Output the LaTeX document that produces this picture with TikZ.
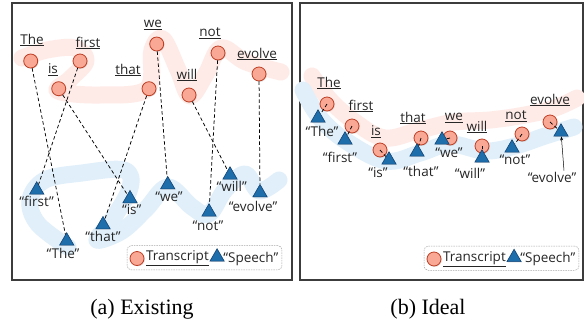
\documentclass[tikz,border=0pt]{standalone}
\usepackage{fontspec}
\setmainfont{Liberation Serif}
\newfontfamily\labelfont{Open Sans}
\usepackage{tikz}
\usetikzlibrary{positioning,calc,shapes.geometric,fit,arrows.meta,shadows}
\definecolor{trfill}{RGB}{248,168,148}
\definecolor{trdraw}{RGB}{190,62,36}
\definecolor{spfill}{RGB}{30,110,172}
\definecolor{spdraw}{RGB}{18,68,118}
\definecolor{trband}{RGB}{254,235,231}
\definecolor{spband}{RGB}{224,239,250}
\definecolor{panelgray}{RGB}{60,60,60}

\begin{document}
\begin{tikzpicture}[x=1pt,y=-1pt,
		panel/.style={draw=panelgray, line width=1.1pt, fill=white},
		tcirc/.style={circle, draw=trdraw, fill=trfill, line width=0.8pt, minimum size=14pt, inner sep=0pt,
			drop shadow={opacity=0.25, shadow xshift=0.8pt, shadow yshift=-0.8pt}},
		stri/.style={regular polygon, regular polygon sides=3, draw=spdraw, fill=spfill, line width=0.6pt,
			minimum size=16.5pt, inner sep=0pt, drop shadow={opacity=0.25, shadow xshift=0.8pt, shadow yshift=-0.8pt}},
		lbl/.style={font=\labelfont\fontsize{13.5}{14}\selectfont, text=black!85, inner sep=1pt},
		conn/.style={dash pattern=on 3.5pt off 2.5pt, line width=0.75pt},
		band/.style={line width=17pt, line cap=round, line join=round},
		legbox/.style={draw=gray!70, dash pattern=on 1.5pt off 1pt, rounded corners=4pt, line width=0.5pt, inner sep=2.5pt},
		capt/.style={font=\fontsize{22}{24}\selectfont, inner sep=0pt}
		]
		\useasboundingbox (0,0) rectangle (584,322);
		
		% ===== two panels =====
		\draw[panel] (12,3) rectangle (292,280);
		\draw[panel] (300,3) rectangle (583,280);
		
		% ===== background bands (a) =====
		\draw[band, draw=trband] plot[smooth, tension=0.6] coordinates {(22,58) (47,50) (75,48) (86,61) (70,79) (58,91) (100,95) (147,89) (152,50) (163,39) (178,70) (190,96) (206,74) (221,48) (246,62) (281,72)};
		\draw[band, draw=spband] plot[smooth, tension=0.6] coordinates {(68,247) (38,224) (30,200) (45,180) (82,173) (124,170) (130,188) (112,220) (97,240) (122,231) (146,209) (168,187) (192,207) (209,214) (225,190) (245,174) (259,191) (279,180)};
		
		% ===== background bands (b) =====
		\draw[band, draw=trband] plot[smooth, tension=0.6] coordinates {(312,76) (330,100) (355,122) (385,138) (420,130) (455,122) (490,120) (525,115) (555,108) (577,98)};
		\draw[band, draw=spband] plot[smooth, tension=0.6] coordinates {(303,90) (320,118) (346,141) (386,161) (420,153) (450,144) (485,151) (515,146) (545,136) (574,127)};
		
		% ===== (a) transcript words =====
		\foreach \w/\cx/\cy/\lx/\ly in {The/30.7/61/32/40, first/80/61/88/43, is/58.7/88.7/53/70, that/149/88.7/128/70,
			we/156.7/44/153/25, will/189/95/187/75, not/218/53/210/33, evolve/259/74/257/54}{
			\node[tcirc] (ac\w) at (\cx,\cy) {};
			\node[lbl] (acl\w) at (\lx,\ly) {\underline{\w}};
		}
		
		% ===== (a) speech words =====
		\foreach \w/\sx/\sy/\lx/\ly in {The/66.7/241/63/253, first/36.7/190/36.7/201.7, is/130/198.7/131.7/210, that/103/224.7/103/236.7,
			we/167.7/184.7/169/197, will/230/175/231.7/186.7, not/209/212/208/226, evolve/260/192.7/253/206.7}{
			\node[stri] (as\w) at (\sx,\sy) {};
			\node[lbl] (asl\w) at (\lx,\ly) {“\w”};
		}
		
		\foreach \w in {The,first,is,that,we,will,not,evolve}{
			\draw[conn] (ac\w) -- (as\w);
		}
		
		% ===== (b) transcript words =====
		\foreach \w/\cx/\cy/\lx/\ly in {The/327/104/329/83, first/352/126/361/106, is/380/150/376/132, that/421/138/413/118,
			we/450/138/454/118, will/482/146/477/127, not/522/134/516/116, evolve/550/122/550/100}{
			\node[tcirc] (bc\w) at (\cx,\cy) {};
			\node[lbl] (bcl\w) at (\lx,\ly) {\underline{\w}};
		}
		
		% ===== (b) speech words =====
		\foreach \w/\sx/\sy/\lx/\ly in {The/318/118/322/131, first/345/140/340/157, is/389/160/378/173, that/417/152/421/171,
			we/442/140/449/153, will/482/158/470/173, not/512/148/515/160, evolve/561/132/552/177}{
			\node[stri] (bs\w) at (\sx,\sy) {};
			\node[lbl] (bsl\w) at (\lx,\ly) {“\w”};
		}
		
		\foreach \w in {The,first,is,that,we,will,not,evolve}{
			\draw[conn] (bc\w.center) -- (bs\w);
		}
		
		\draw[-{Stealth[length=4pt,width=3pt]}, line width=0.5pt] ([xshift=12pt]bslevolve.north) -- (bsevolve);
		
		% ===== legends =====
		\node[tcirc] (alegc) at (137,258.5) {};
		\node[lbl, right=0.5pt of alegc] (alegt) {\underline{Transcript}};
		\node[stri, right=2pt of alegt, yshift=1.5pt] (alegs) {};
		\node[lbl, right=0pt of alegs, yshift=-1.5pt] (alegw) {“Speech”};
		\node[legbox, fit=(alegc) (alegt) (alegs) (alegw)] (alegbox) {};
		
		\node[tcirc] (blegc) at (434,259) {};
		\node[lbl, right=0.5pt of blegc] (blegt) {\underline{Transcript}};
		\node[stri, right=2pt of blegt, yshift=1.5pt] (blegs) {};
		\node[lbl, right=0pt of blegs, yshift=-1.5pt] (blegw) {“Speech”};
		\node[legbox, fit=(blegc) (blegt) (blegs) (blegw)] (blegbox) {};
		
		% ===== captions =====
		\node[capt] (capa) at (142,309) {(a) Existing};
		\node[capt] (capb) at (428,309) {(b) Ideal};
		
	\end{tikzpicture}
\end{document}
